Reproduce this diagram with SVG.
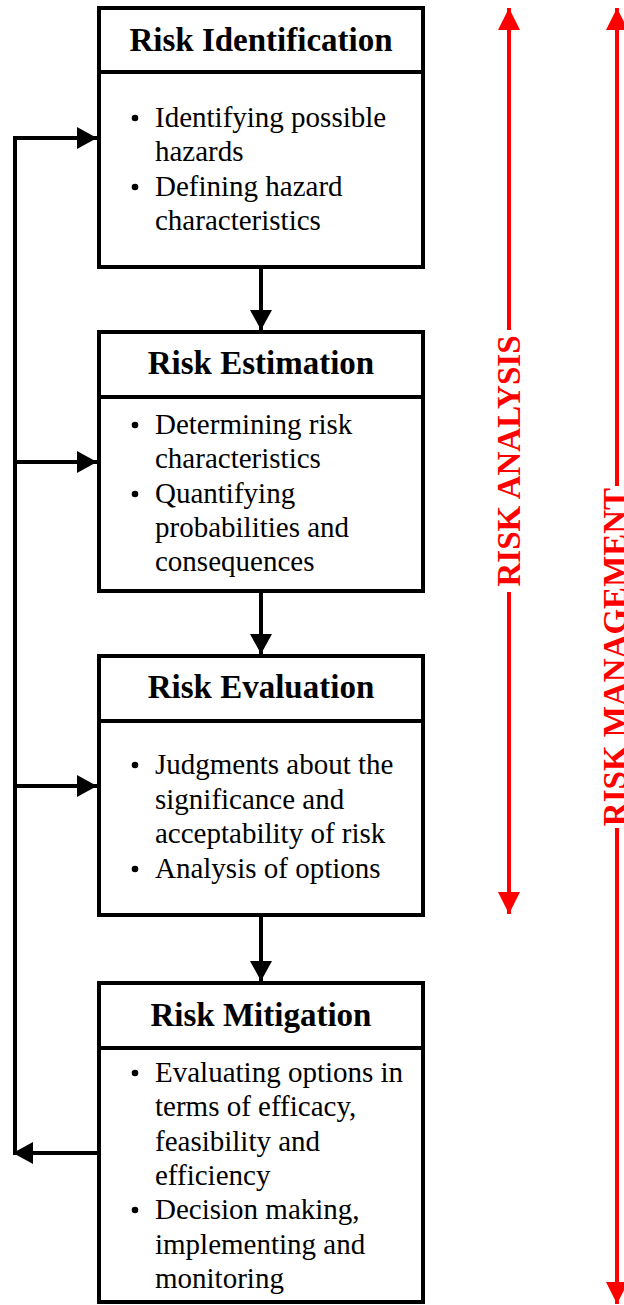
<svg xmlns="http://www.w3.org/2000/svg" width="624" height="1305" viewBox="0 0 624 1305">
<style>
.box{fill:#fff;stroke:#000;stroke-width:4;stroke-linejoin:miter}
.div{stroke:#000;stroke-width:4}
.title{font-family:"Liberation Serif","Times New Roman",serif;font-weight:bold;font-size:33px;text-anchor:middle;fill:#000}
.body{font-family:"Liberation Serif","Times New Roman",serif;font-size:29px;fill:#000}
.conn{fill:none;stroke:#000;stroke-width:4}
.red{fill:none;stroke:#ff0000;stroke-width:4}
.rtext{font-family:"Liberation Serif","Times New Roman",serif;font-weight:bold;font-size:33px;text-anchor:middle;fill:#ff0000}
</style>
<defs>
<marker id="ah" markerUnits="userSpaceOnUse" markerWidth="20" markerHeight="22" refX="20" refY="11" orient="auto">
<path d="M0,0 L20,11 L0,22 z" fill="#000"/>
</marker>
<marker id="rh" markerUnits="userSpaceOnUse" markerWidth="22" markerHeight="22" refX="22" refY="11" orient="auto-start-reverse">
<path d="M0,0 L22,11 L0,22 z" fill="#ff0000"/>
</marker>
</defs>
<rect width="624" height="1305" fill="#fff"/>

<g id="connectors">
<line class="conn" x1="261" y1="267" x2="261" y2="330" marker-end="url(#ah)"/>
<line class="conn" x1="261" y1="591" x2="261" y2="654" marker-end="url(#ah)"/>
<line class="conn" x1="261" y1="915" x2="261" y2="981" marker-end="url(#ah)"/>
<polyline class="conn" points="15,1153 15,138"/>
<line class="conn" x1="13" y1="138" x2="97" y2="138" marker-end="url(#ah)"/>
<line class="conn" x1="15" y1="462" x2="97" y2="462" marker-end="url(#ah)"/>
<line class="conn" x1="15" y1="786" x2="97" y2="786" marker-end="url(#ah)"/>
<line class="conn" x1="99" y1="1153" x2="13" y2="1153" marker-end="url(#ah)"/>
</g>

<g id="risk-identification">
<rect class="box" x="99" y="8" width="324" height="259"/>
<line class="div" x1="99" y1="72" x2="423" y2="72"/>
<text class="title" x="261" y="51">Risk Identification</text>
<circle cx="135" cy="118" r="3.3"/>
<circle cx="135" cy="187" r="3.3"/>
<text class="body" x="155" y="127">Identifying possible</text>
<text class="body" x="155" y="161">hazards</text>
<text class="body" x="155" y="196">Defining hazard</text>
<text class="body" x="155" y="230">characteristics</text>
</g>

<g id="risk-estimation">
<rect class="box" x="99" y="332" width="324" height="259"/>
<line class="div" x1="99" y1="397" x2="423" y2="397"/>
<text class="title" x="261" y="374">Risk Estimation</text>
<circle cx="135" cy="425" r="3.3"/>
<circle cx="135" cy="494" r="3.3"/>
<text class="body" x="155" y="434">Determining risk</text>
<text class="body" x="155" y="468">characteristics</text>
<text class="body" x="155" y="503">Quantifying</text>
<text class="body" x="155" y="537">probabilities and</text>
<text class="body" x="155" y="571">consequences</text>
</g>

<g id="risk-evaluation">
<rect class="box" x="99" y="656" width="324" height="259"/>
<line class="div" x1="99" y1="721" x2="423" y2="721"/>
<text class="title" x="261" y="698">Risk Evaluation</text>
<circle cx="135" cy="765" r="3.3"/>
<circle cx="135" cy="869" r="3.3"/>
<text class="body" x="155" y="774">Judgments about the</text>
<text class="body" x="155" y="809">significance and</text>
<text class="body" x="155" y="843">acceptability of risk</text>
<text class="body" x="155" y="878">Analysis of options</text>
</g>

<g id="risk-mitigation">
<rect class="box" x="99" y="983" width="324" height="319"/>
<line class="div" x1="99" y1="1048" x2="423" y2="1048"/>
<text class="title" x="261" y="1026">Risk Mitigation</text>
<circle cx="135" cy="1073" r="3.3"/>
<circle cx="135" cy="1210" r="3.3"/>
<text class="body" x="155" y="1082">Evaluating options in</text>
<text class="body" x="155" y="1116">terms of efficacy,</text>
<text class="body" x="155" y="1151">feasibility and</text>
<text class="body" x="155" y="1185">efficiency</text>
<text class="body" x="155" y="1219">Decision making,</text>
<text class="body" x="155" y="1254">implementing and</text>
<text class="body" x="155" y="1288">monitoring</text>
</g>

<g id="risk-analysis-span">
<line class="red" x1="509" y1="330" x2="509" y2="8" marker-end="url(#rh)"/>
<line class="red" x1="509" y1="592" x2="509" y2="914" marker-end="url(#rh)"/>
<text class="rtext" transform="translate(520,461) rotate(-90)">RISK ANALYSIS</text>
</g>

<g id="risk-management-span">
<line class="red" x1="617" y1="486" x2="617" y2="8" marker-end="url(#rh)"/>
<line class="red" x1="617" y1="828" x2="617" y2="1304" marker-end="url(#rh)"/>
<text class="rtext" transform="translate(626,657) rotate(-90)">RISK MANAGEMENT</text>
</g>
</svg>
